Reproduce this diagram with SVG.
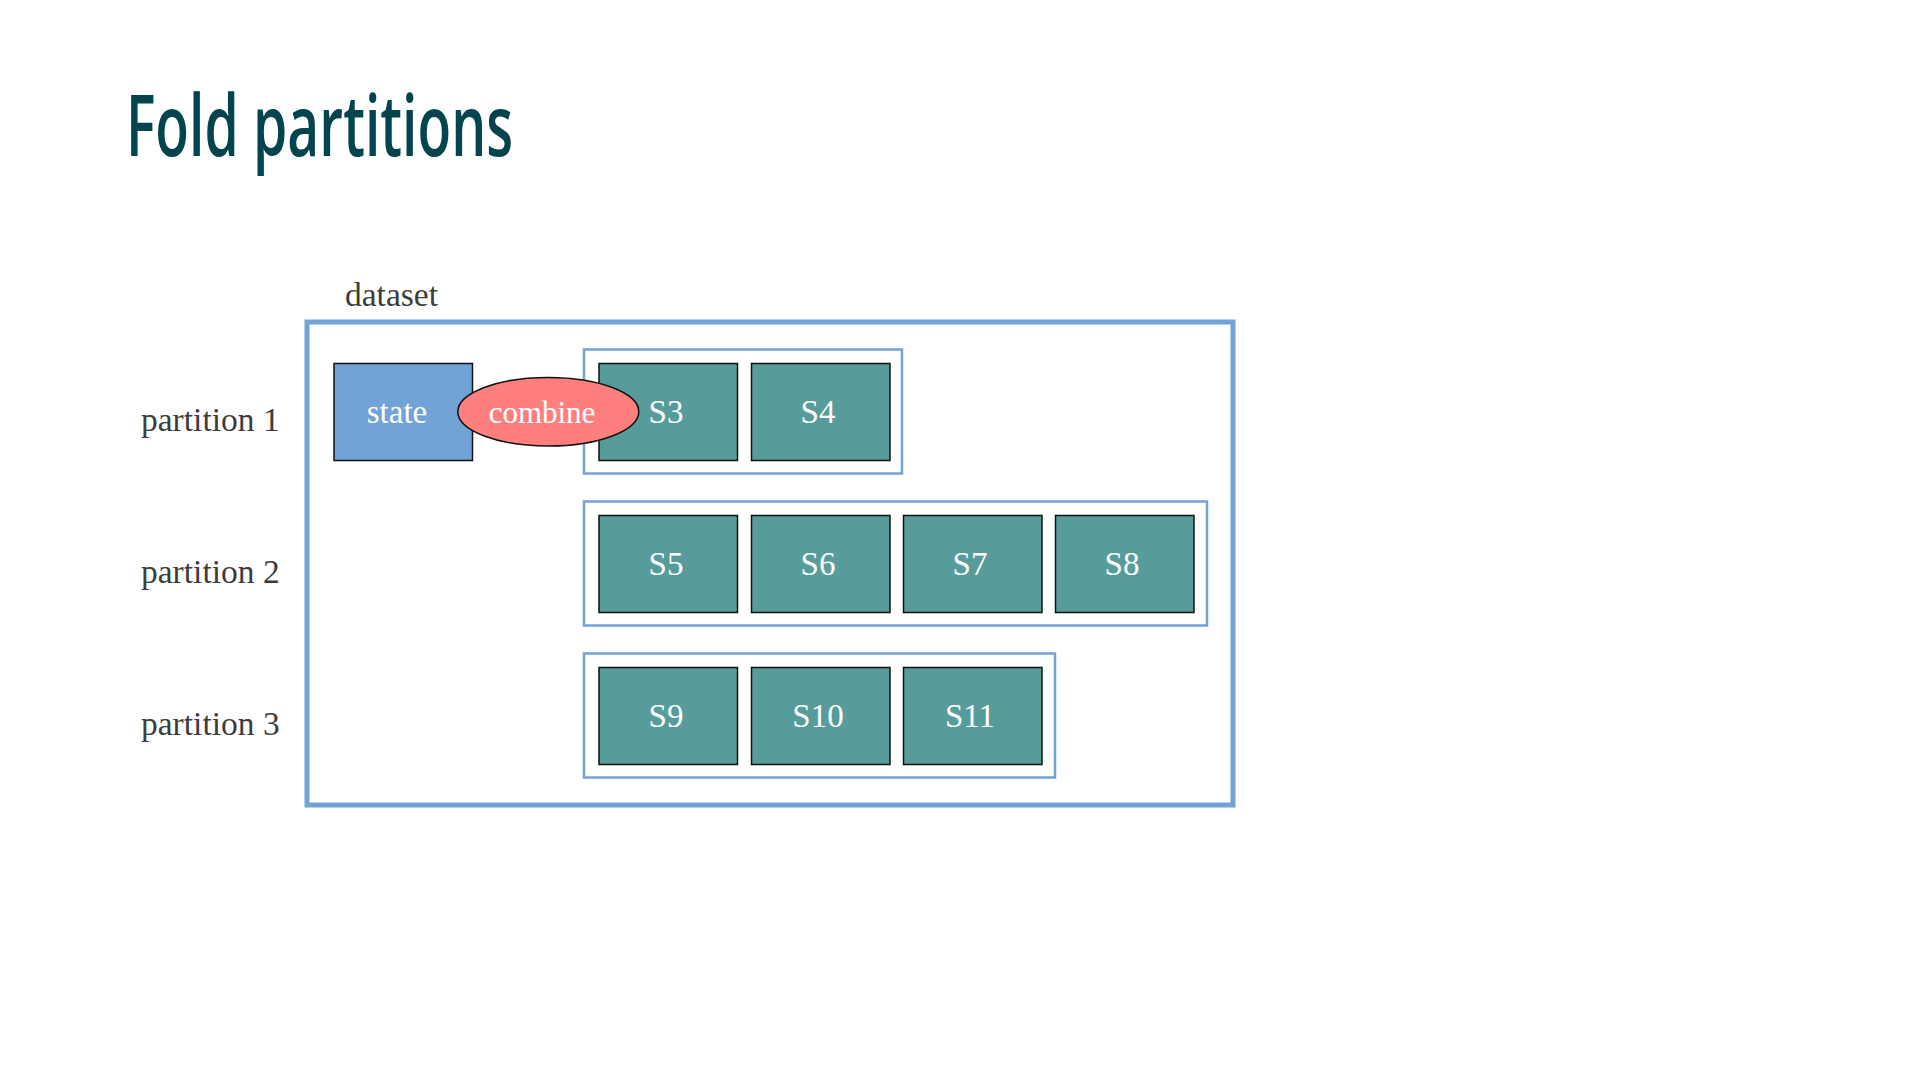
<svg xmlns="http://www.w3.org/2000/svg" width="1920" height="1080" viewBox="0 0 1920 1080">
<style>
.lbl{font-family:"Liberation Serif","Times New Roman",serif;font-size:33.5px;fill:#3d3d3d}
.s{fill:#579c9a;stroke:#111;stroke-width:1.5}
.st{font-family:"Liberation Serif","Times New Roman",serif;font-size:33px;fill:#ffffff;text-anchor:middle}
.grp{fill:none;stroke:#72a3d6;stroke-width:2.5}
</style>
<rect width="1920" height="1080" fill="#ffffff"/>
<text x="126" y="156" font-family="'Open Sans','DejaVu Sans Condensed',sans-serif" font-size="85" font-weight="600" fill="#03444d" textLength="387" lengthAdjust="spacingAndGlyphs">Fold partitions</text>
<g id="dataset">
<text class="lbl" x="345" y="305.5">dataset</text>
<rect x="307" y="322" width="926" height="483" fill="none" stroke="#72a3d6" stroke-width="5"/>
</g>
<g id="partition-labels">
<text class="lbl" x="141" y="430.5">partition 1</text>
<text class="lbl" x="141" y="582.5">partition 2</text>
<text class="lbl" x="141" y="734.5">partition 3</text>
</g>
<g id="state">
<rect x="334" y="363.5" width="138.5" height="97" fill="#72a3d6" stroke="#111" stroke-width="1.5"/>
<text class="st" x="397" y="423">state</text>
</g>
<g id="partition1">
<rect class="grp" x="584" y="349.5" width="318" height="124"/>
<g id="S3"><rect class="s" x="599" y="363.5" width="138.5" height="97"/><text class="st" x="666" y="423.3">S3</text></g>
<g id="S4"><rect class="s" x="751.5" y="363.5" width="138.5" height="97"/><text class="st" x="818" y="423.3">S4</text></g>
</g>
<g id="partition2">
<rect class="grp" x="584" y="501.5" width="623" height="124"/>
<g id="S5"><rect class="s" x="599" y="515.5" width="138.5" height="97"/><text class="st" x="666" y="575.3">S5</text></g>
<g id="S6"><rect class="s" x="751.5" y="515.5" width="138.5" height="97"/><text class="st" x="818" y="575.3">S6</text></g>
<g id="S7"><rect class="s" x="903.5" y="515.5" width="138.5" height="97"/><text class="st" x="970" y="575.3">S7</text></g>
<g id="S8"><rect class="s" x="1055.5" y="515.5" width="138.5" height="97"/><text class="st" x="1122" y="575.3">S8</text></g>
</g>
<g id="partition3">
<rect class="grp" x="584" y="653.5" width="471" height="124"/>
<g id="S9"><rect class="s" x="599" y="667.5" width="138.5" height="97"/><text class="st" x="666" y="727.3">S9</text></g>
<g id="S10"><rect class="s" x="751.5" y="667.5" width="138.5" height="97"/><text class="st" x="818" y="727.3">S10</text></g>
<g id="S11"><rect class="s" x="903.5" y="667.5" width="138.5" height="97"/><text class="st" x="970" y="727.3">S11</text></g>
</g>
<g id="combine">
<ellipse cx="548.3" cy="411.7" rx="90.5" ry="34.3" fill="#ff7f7f" stroke="#111" stroke-width="1.5"/>
<text class="st" x="542" y="422.7" style="font-size:31px">combine</text>
</g>
<g id="connectors"></g>
</svg>
